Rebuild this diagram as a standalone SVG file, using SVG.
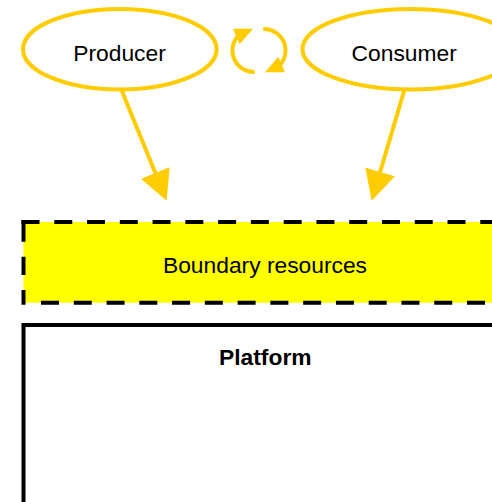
<svg xmlns="http://www.w3.org/2000/svg" xmlns:xlink="http://www.w3.org/1999/xlink" width="492" height="502" viewBox="0 0 492 502">
  <style>
    .actor { fill: #FFFFFF; stroke: #FFCC00; stroke-width: 4; }
    .label { font-family: "Liberation Sans", Arial, sans-serif; font-size: 22.8px; fill: #000000; text-anchor: middle; }
    .bold { font-weight: bold; }
    .flow { fill: none; stroke: #FFCC00; stroke-width: 4; }
    .gold { fill: #FFCC00; stroke: none; }
    .dash { stroke: #000000; stroke-width: 4; fill: none; }
  </style>
  <defs>
    <marker id="head" viewBox="0 0 30 31" refX="5" refY="15.5" markerWidth="30" markerHeight="31" markerUnits="userSpaceOnUse" orient="auto">
      <path d="M0,0 L30,15.5 L0,31 Z" fill="#FFCC00"/>
    </marker>
    <!-- half of the exchange icon: arc plus arrowhead -->
    <g id="half-cycle">
      <path class="flow" d="M263.25,29 A21.5,21.5 0 0 1 277.8,67"/>
      <polygon class="gold" points="265,72.3 285,72.3 278.3,56.7"/>
    </g>
  </defs>

  <!-- Platform -->
  <g id="platform">
    <rect x="23.5" y="325" width="490" height="300" fill="#FFFFFF" stroke="#000000" stroke-width="4"/>
    <text class="label bold" x="265.3" y="365">Platform</text>
  </g>

  <!-- Boundary resources -->
  <g id="boundary">
    <rect x="23.5" y="222" width="490" height="80.7" fill="#FFFF00"/>
    <line class="dash" x1="21.5" y1="222" x2="510" y2="222" stroke-dasharray="18 14.77"/>
    <line class="dash" x1="41" y1="302.7" x2="510" y2="302.7" stroke-dasharray="18 14.77"/>
    <line class="dash" x1="23.5" y1="220" x2="23.5" y2="304.7" stroke-dasharray="21.7 15 18.3 15 20"/>
    <text class="label" x="265" y="272.7">Boundary resources</text>
  </g>

  <!-- Producer -->
  <g id="producer">
    <ellipse class="actor" cx="119.8" cy="49.2" rx="96.8" ry="40.3"/>
    <text class="label" x="119.5" y="61">Producer</text>
  </g>

  <!-- Consumer -->
  <g id="consumer">
    <ellipse class="actor" cx="410.5" cy="49.2" rx="108" ry="40.3"/>
    <text class="label" x="404.2" y="61">Consumer</text>
  </g>

  <!-- Exchange icon between producer and consumer -->
  <g id="exchange">
    <use xlink:href="#half-cycle"/>
    <use xlink:href="#half-cycle" transform="rotate(180 259 50.5)"/>
  </g>

  <!-- Connectors -->
  <g id="connectors">
    <path class="flow" d="M121.3,89.5 L157.2,177.6" marker-end="url(#head)"/>
    <path class="flow" d="M404.5,89.5 L378.75,176.7" marker-end="url(#head)"/>
  </g>
</svg>
